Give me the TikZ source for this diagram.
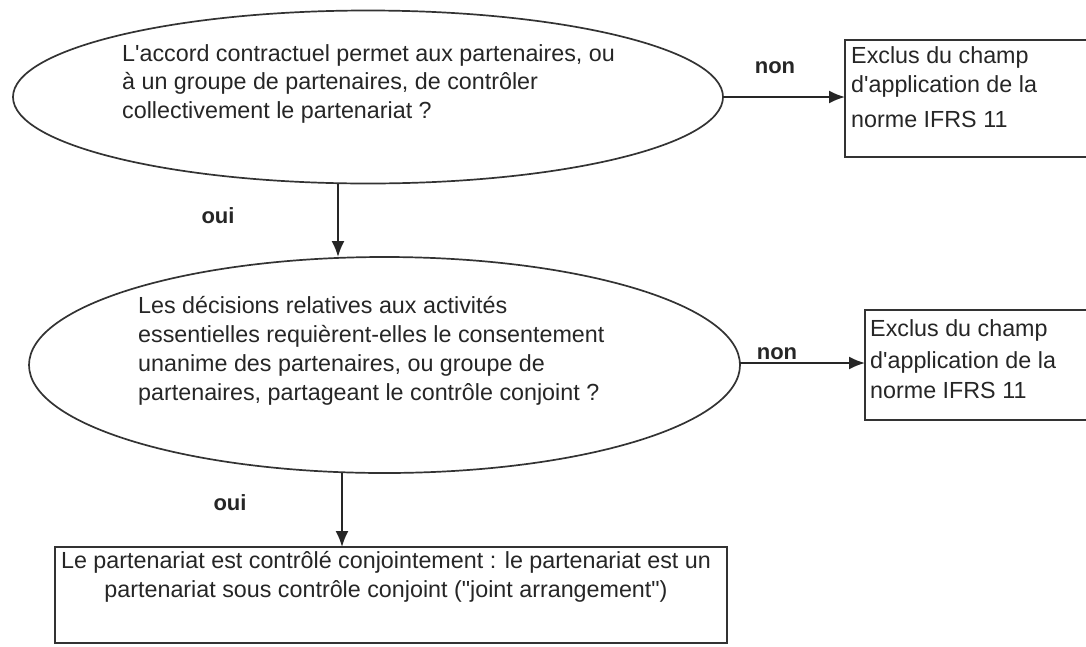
\documentclass[tikz,border=0pt]{standalone}
\usepackage{fontspec}
\setmainfont{Liberation Sans}
\usetikzlibrary{shapes.geometric,arrows.meta}
\begin{document}
\begin{tikzpicture}[x=1pt,y=-1pt,
  shapeline/.style={draw=black!80,line width=1.7pt},
  question/.style={shapeline,ellipse,inner sep=0pt,outer sep=0pt},
  outbox/.style={shapeline,rectangle,inner sep=0pt,outer sep=0pt,anchor=north west},
  body/.style={anchor=base west,inner sep=0pt,align=left,text=black!85,font=\fontsize{23.3}{28.5}\selectfont},
  lbl/.style={inner sep=0pt,text=black!85,font=\fontsize{22}{26}\selectfont\bfseries},
  arr/.style={draw=black!85,line width=1.9pt,-{Latex[length=16pt,width=13pt]}}
]
\clip (0,0) rectangle (1086,646);
\fill[white] (0,0) rectangle (1086,646);

% shapes
\node[question,minimum width=710pt,minimum height=173pt] (e1) at (368,97) {};
\node[question,minimum width=711pt,minimum height=216pt] (e2) at (384.5,365) {};
\node[outbox,minimum width=260pt,minimum height=117pt] (b1) at (845,40) {};
\node[outbox,minimum width=240pt,minimum height=110pt] (b2) at (865,310) {};
\node[outbox,minimum width=672pt,minimum height=96pt] (b3) at (55,547) {};

% texts (anchored at the baseline of the last line)
\node[body] (t1) at (122,118) {L\textquotesingle accord contractuel permet aux partenaires, ou\\à un groupe de partenaires, de contrôler\\collectivement le partenariat ?};
\node[body,font=\fontsize{23.3}{29}\selectfont] (t2) at (138,400) {Les décisions relatives aux activités\\essentielles requièrent-elles le consentement\\unanime des partenaires, ou groupe de\\partenaires, partageant le contrôle conjoint ?};
\node[body] (t3) at (851,127) {Exclus du champ\\[1pt]d\textquotesingle application de la\\[6pt]norme IFRS 11};
\node[body] (t4) at (870,398) {Exclus du champ\\[4pt]d\textquotesingle application de la\\[1pt]norme IFRS 11};
\node[body,anchor=base,align=center] (t5) at (386,597) {Le partenariat est contrôlé conjointement : le partenariat est un\\[0.5pt]partenariat sous contrôle conjoint (\textquotedbl joint arrangement\textquotedbl)};

% connectors
\draw[arr] (e1.east) -- (e1.east -| b1.west);
\draw[arr] ([yshift=2pt]e2.east) -- ([yshift=2pt]e2.east -| b2.west);
\draw[arr] ([xshift=-30pt]e1.south) -- ([xshift=-30pt]e1.south |- e2.north);
\draw[arr] ([xshift=-42.5pt]e2.south) -- ([xshift=-42.5pt]e2.south |- b3.north);

% labels
\node[lbl] (l1) at (775,68) {non};
\node[lbl] (l2) at (777,354) {non};
\node[lbl] (l3) at (218,216) {oui};
\node[lbl] (l4) at (230,503) {oui};
\end{tikzpicture}
\end{document}
